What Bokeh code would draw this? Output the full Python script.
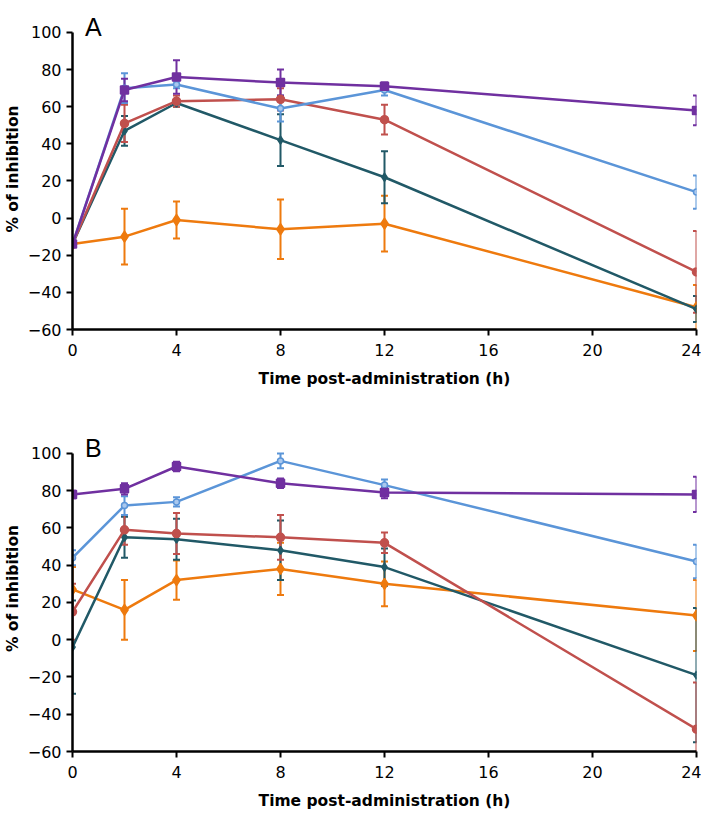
from bokeh.plotting import figure
from bokeh.layouts import column
from bokeh.models import ColumnDataSource, Whisker, TeeHead, Label, Range1d, FixedTicker
from bokeh.embed import file_html
from bokeh.resources import INLINE

# ---- data ----
time_h = [0, 2, 4, 8, 12, 24]
x_ticks = [0, 4, 8, 12, 16, 20, 24]
y_ticks = [-60, -40, -20, 0, 20, 40, 60, 80, 100]

# Panel A
a_purple = [-14, 69, 76, 73, 71, 58]
a_purple_err = [1, 6, 9, 7, 2, 8]
a_blue = [-14, 70, 72, 59, 69, 14]
a_blue_err = [1, 8, 2, 7, 3, 9]
a_red = [-14, 51, 63, 64, 53, -29]
a_red_err = [1, 10, 3, 6, 8, 22]
a_teal = [-14, 47, 62, 42, 22, -49]
a_teal_err = [1, 8, 2, 14, 14, 7]
a_orange = [-14, -10, -1, -6, -3, -48]
a_orange_err = [1, 15, 10, 16, 15, 12]

# Panel B
b_purple = [78, 81, 93, 84, 79, 78]
b_purple_err = [2, 3, 2.5, 2.5, 3, 9.5]
b_blue = [44, 72, 74, 96, 83, 42]
b_blue_err = [4, 5, 2.5, 4, 3, 9]
b_red = [15, 59, 57, 55, 52, -48]
b_red_err = [15, 8, 11, 12, 5.5, 25]
b_teal = [-4, 55, 54, 48, 39, -19]
b_teal_err = [25, 11, 11, 16, 10, 36]
b_orange = [27, 16, 32, 38, 30, 13]
b_orange_err = [12, 16, 10.5, 14, 12, 19]

C_PURPLE = "#7030A0"
C_BLUE = "#5B95D8"
C_RED = "#C0504D"
C_TEAL = "#215967"
C_ORANGE = "#EE7A0E"

FONT = "DejaVu Sans"


def make_panel(letter, series, frame_h, y_top, top, bottom):
    p = figure(frame_width=624, frame_height=frame_h, output_backend="svg",
               toolbar_location=None,
               x_range=Range1d(0, 24), y_range=Range1d(-60, y_top),
               min_border_left=64, min_border_right=5,
               min_border_top=top, min_border_bottom=bottom)
    p.outline_line_color = None
    p.xgrid.visible = False
    p.ygrid.visible = False
    for ax in (p.xaxis[0], p.yaxis[0]):
        ax.axis_line_width = 2.5
        ax.axis_line_color = "black"
        ax.major_tick_line_width = 2
        ax.major_tick_line_color = "black"
        ax.major_tick_out = 6
        ax.major_tick_in = 0
        ax.minor_tick_line_color = None
        ax.major_label_text_font = FONT
        ax.major_label_text_font_size = "16px"
        ax.major_label_text_color = "black"
        ax.axis_label_text_font = FONT
        ax.axis_label_text_font_size = "15.5px"
        ax.axis_label_text_font_style = "bold"
        ax.axis_label_text_color = "black"
    p.yaxis.bounds = (-60, 100)
    p.xaxis.ticker = FixedTicker(ticks=x_ticks)
    p.yaxis.ticker = FixedTicker(ticks=y_ticks)
    p.xaxis.axis_label = "Time post-administration (h)"
    p.yaxis.axis_label = "% of inhibition"
    p.xaxis.major_label_standoff = 8
    p.yaxis.major_label_standoff = 5
    p.xaxis.axis_label_standoff = 11
    p.yaxis.axis_label_standoff = 3

    for vals, errs, color, marker, msize, fill in series:
        lower = [v - e for v, e in zip(vals, errs)]
        upper = [v + e for v, e in zip(vals, errs)]
        src = ColumnDataSource(dict(x=time_h, y=vals, lower=lower, upper=upper))
        w = Whisker(base="x", lower="lower", upper="upper", source=src,
                    line_color=color, line_width=2,
                    upper_head=TeeHead(size=7, line_color=color, line_width=2),
                    lower_head=TeeHead(size=7, line_color=color, line_width=2))
        p.add_layout(w)
        p.line("x", "y", source=src, line_color=color, line_width=2.5)
        p.scatter("x", "y", source=src, marker=marker, size=msize,
                  fill_color=fill, line_color=color, line_width=1.5)

    p.add_layout(Label(x=0.8, y=103.0, text=letter, text_font="Liberation Sans",
                       text_font_size="25px", text_align="center",
                       text_baseline="alphabetic", text_color="black"))
    return p


series_a = [
    (a_orange, a_orange_err, C_ORANGE, "diamond", 11, C_ORANGE),
    (a_teal, a_teal_err, C_TEAL, "diamond", 8, C_TEAL),
    (a_red, a_red_err, C_RED, "circle", 8, C_RED),
    (a_blue, a_blue_err, C_BLUE, "circle", 6, "#A9C8EE"),
    (a_purple, a_purple_err, C_PURPLE, "square", 8, C_PURPLE),
]
series_b = [
    (b_orange, b_orange_err, C_ORANGE, "diamond", 11, C_ORANGE),
    (b_teal, b_teal_err, C_TEAL, "diamond", 8, C_TEAL),
    (b_red, b_red_err, C_RED, "circle", 8, C_RED),
    (b_blue, b_blue_err, C_BLUE, "circle", 6, "#A9C8EE"),
    (b_purple, b_purple_err, C_PURPLE, "square", 8, C_PURPLE),
]

# Panel A: frame from y 8 to 329 (100 at 32); Panel B: frame from 425 to 751 (100 at 453)
p1 = make_panel("A", series_a, 321, 112.9, 8, 96)
p2 = make_panel("B", series_b, 326, 115.0, 0, 50)

layout = column(p1, p2, spacing=0)
open("out.html", "w").write(file_html(layout, INLINE))
